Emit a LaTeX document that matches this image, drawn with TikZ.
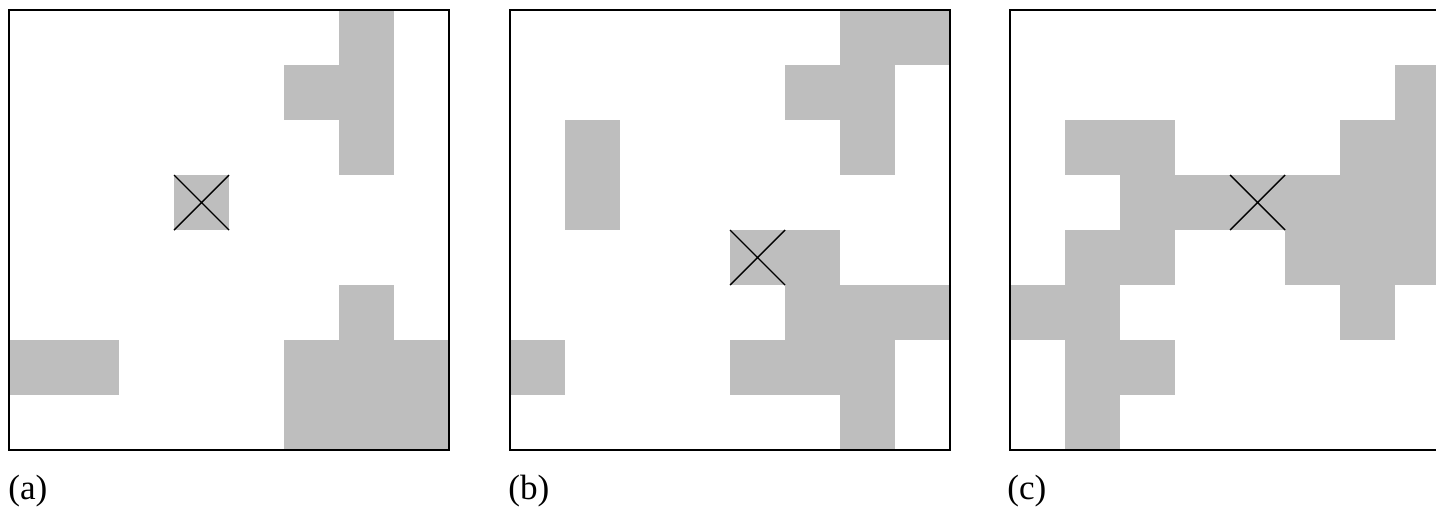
\documentclass[tikz,border=0pt]{standalone}
\usepackage{fontspec}
\setmainfont{Liberation Serif}
\usepackage{xcolor}
\usepackage{tikz}
\definecolor{cellgray}{RGB}{190,190,190}
\tikzset{
  frame/.style={line width=1.1pt},
  cross/.style={line width=0.8pt},
  lab/.style={anchor=base west,inner sep=0pt,font=\fontsize{20}{24}\selectfont}
}
\begin{document}
\begin{tikzpicture}[x=0.02cm,y=-0.02cm]
\useasboundingbox (0,0) rectangle (1436,508);
\clip (0,0) rectangle (1436,508);
% (a)
\begin{scope}[shift={(9,10)}]
\foreach \i/\j in {6/0,6/1,5/1,6/2,3/3,0/6,1/6,6/5,5/6,6/6,7/6,5/7,6/7,7/7}
  \fill[cellgray](55*\i,55*\j)rectangle++(55,55);
\draw[cross](165,165)--++(55,55)(220,165)--++(-55,55);
\draw[frame](0,0)rectangle(440,440);
\end{scope}
% (b)
\begin{scope}[shift={(510,10)}]
\foreach \i/\j in {6/0,7/0,5/1,6/1,6/2,1/2,1/3,4/4,5/4,5/5,6/5,7/5,4/6,5/6,6/6,6/7,0/6}
  \fill[cellgray](55*\i,55*\j)rectangle++(55,55);
\draw[cross](220,220)--++(55,55)(275,220)--++(-55,55);
\draw[frame](0,0)rectangle(440,440);
\end{scope}
% (c)
\begin{scope}[shift={(1010,10)}]
\foreach \i/\j in {7/1,1/2,2/2,6/2,7/2,2/3,3/3,4/3,5/3,6/3,7/3,1/4,2/4,5/4,6/4,7/4,0/5,1/5,6/5,1/6,2/6,1/7}
  \fill[cellgray](55*\i,55*\j)rectangle++(55,55);
\draw[cross](220,165)--++(55,55)(275,165)--++(-55,55);
\draw[frame](0,0)rectangle(440,440);
\end{scope}
\node[lab](la)at(8,499){(a)};
\node[lab](lb)at(508,499){(b)};
\node[lab](lc)at(1007,499){(c)};
\end{tikzpicture}
\end{document}
